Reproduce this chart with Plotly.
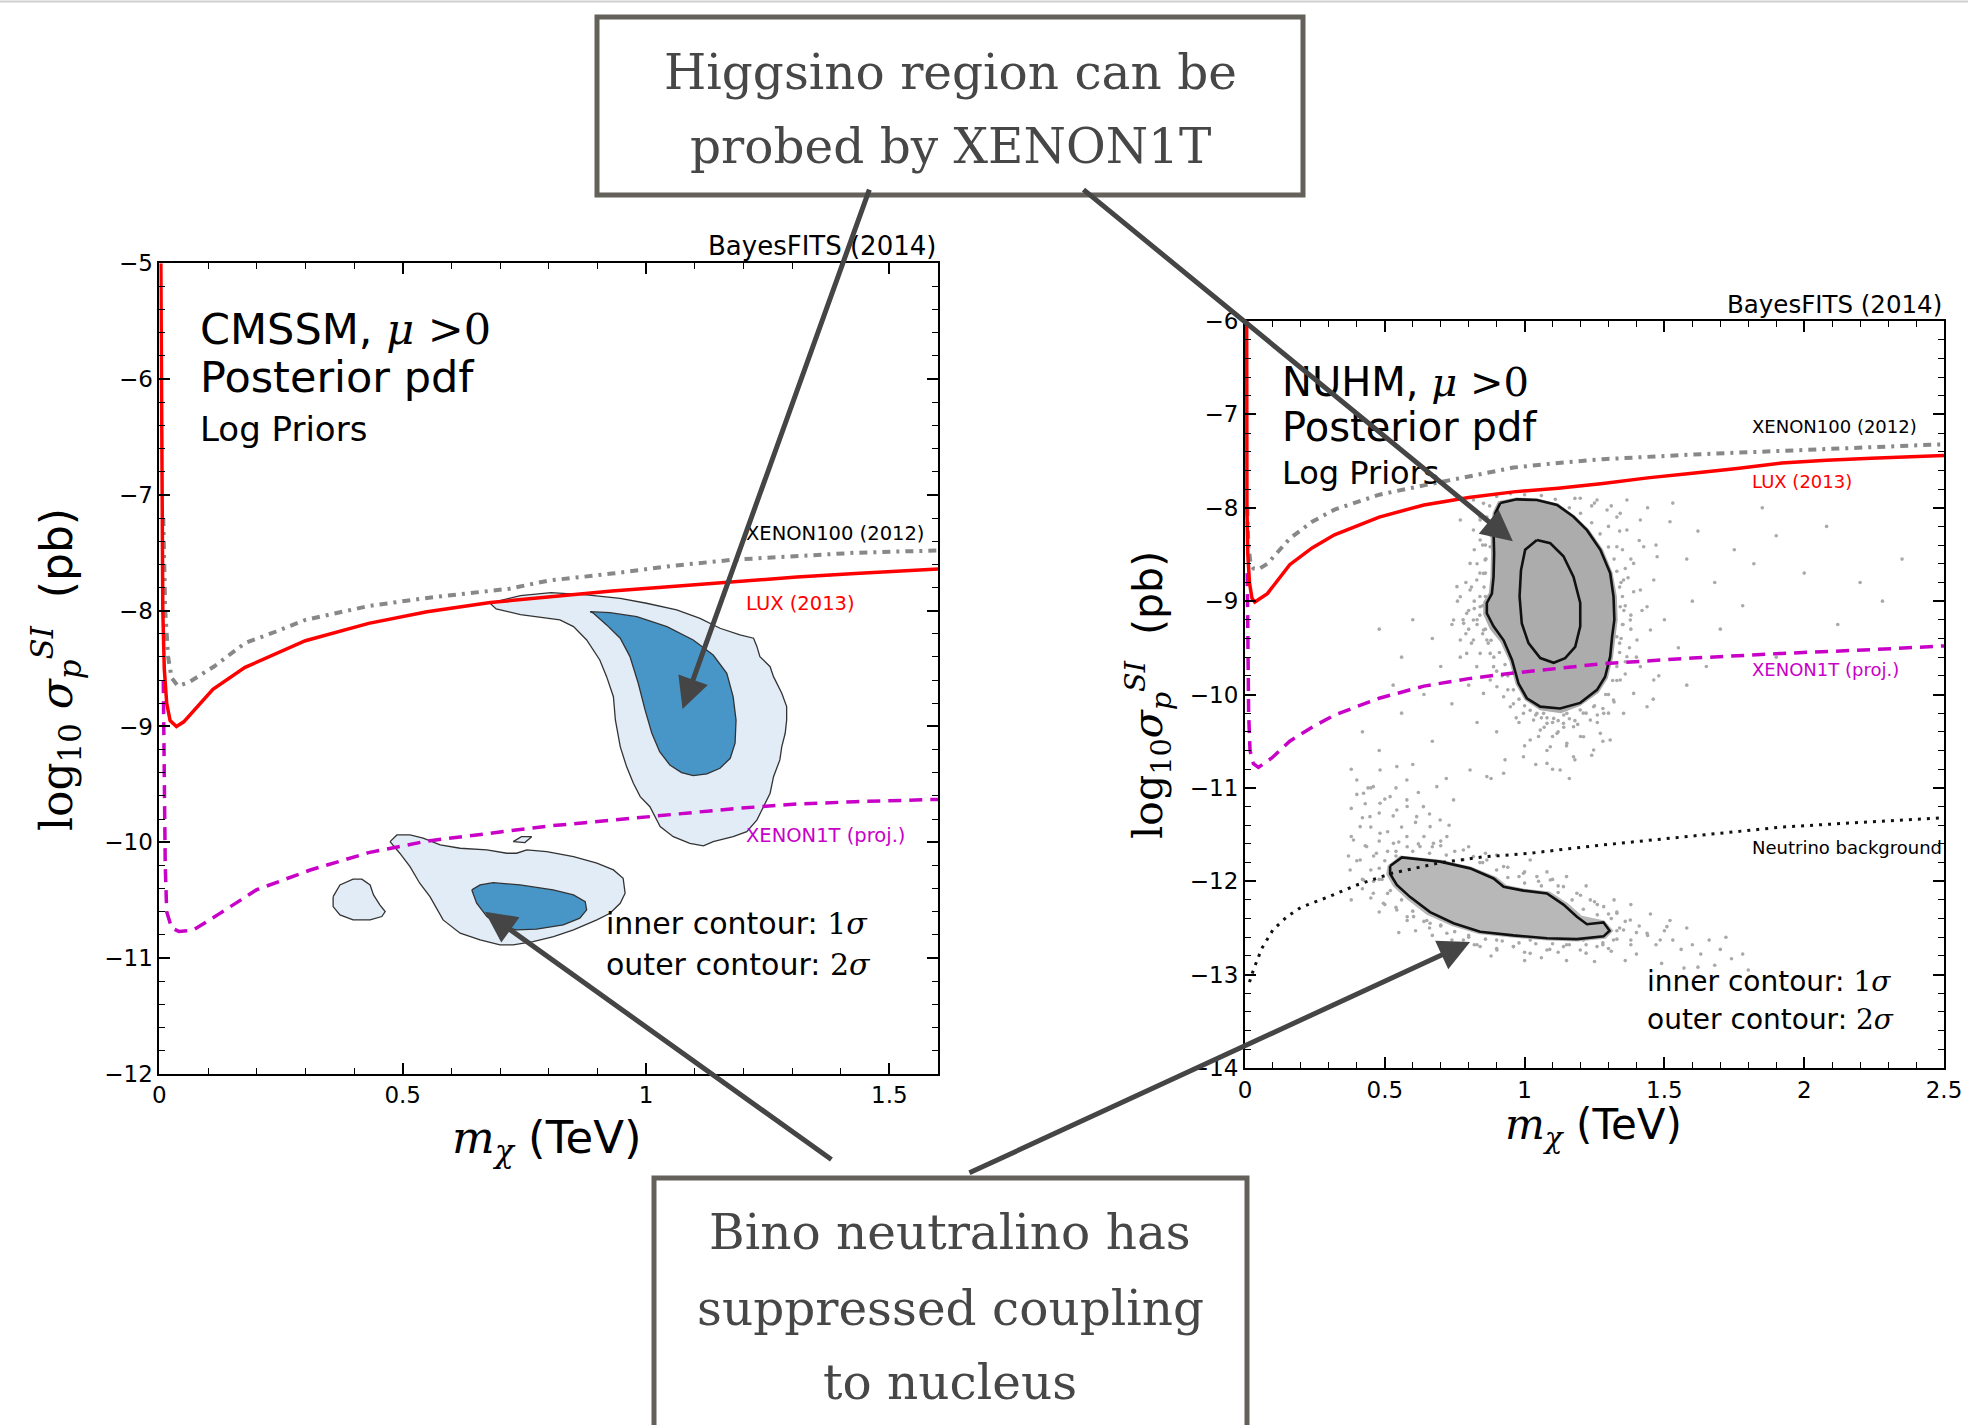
import plotly.graph_objects as go

# ---------------- CMSSM panel (left) ----------------
cm_lux_x = [0.003, 0.004, 0.005, 0.007, 0.010, 0.015, 0.022, 0.035, 0.05, 0.075, 0.11, 0.176,
            0.30, 0.43, 0.55, 0.68, 0.80, 0.93, 1.06, 1.18, 1.31, 1.43, 1.6]
cm_lux_y = [-5.0, -6.0, -7.0, -8.0, -8.5, -8.8, -8.95, -9.0, -8.96, -8.84, -8.68, -8.49,
            -8.26, -8.11, -8.01, -7.93, -7.88, -7.83, -7.79, -7.75, -7.71, -7.68, -7.64]

cm_x100_x = [0.008, 0.012, 0.018, 0.025, 0.038, 0.06, 0.113, 0.176, 0.24, 0.30, 0.43, 0.55,
             0.72, 0.80, 0.93, 1.06, 1.18, 1.31, 1.43, 1.6]
cm_x100_y = [-7.2, -8.0, -8.4, -8.58, -8.65, -8.62, -8.48, -8.28, -8.18, -8.08, -7.96, -7.89,
             -7.81, -7.74, -7.68, -7.61, -7.56, -7.53, -7.50, -7.48]

cm_x1t_x = [0.008, 0.010, 0.012, 0.015, 0.025, 0.04, 0.069, 0.126, 0.20, 0.31, 0.43, 0.55,
            0.68, 0.80, 0.93, 1.06, 1.18, 1.31, 1.43, 1.6]
cm_x1t_y = [-8.6, -9.5, -10.2, -10.6, -10.74, -10.77, -10.76, -10.61, -10.41, -10.24, -10.09,
            -9.99, -9.92, -9.86, -9.81, -9.76, -9.71, -9.67, -9.65, -9.63]

# 2-sigma / 1-sigma regions (higgsino-like island)
cm_hi_out_x = [0.679, 0.742, 0.805, 0.878, 0.947, 1.001, 1.063, 1.111, 1.152, 1.193, 1.221, 1.228,
               1.234, 1.255, 1.262, 1.279, 1.289, 1.289, 1.286, 1.279, 1.275, 1.262, 1.255, 1.241,
               1.228, 1.207, 1.179, 1.138, 1.118, 1.090, 1.056, 1.029, 1.008, 0.988, 0.974, 0.960,
               0.947, 0.937, 0.933, 0.919, 0.905, 0.878, 0.851, 0.823, 0.742, 0.692]
cm_hi_out_y = [-7.934, -7.870, -7.845, -7.864, -7.893, -7.936, -7.994, -8.066, -8.152, -8.210, -8.238,
               -8.311, -8.397, -8.484, -8.570, -8.713, -8.829, -8.944, -9.059, -9.174, -9.289, -9.434,
               -9.577, -9.693, -9.807, -9.908, -9.952, -9.995, -10.032, -10.009, -9.952, -9.865,
               -9.693, -9.606, -9.491, -9.347, -9.174, -8.944, -8.743, -8.570, -8.426, -8.253,
               -8.138, -8.080, -8.034, -7.985]
cm_hi_in_x = [0.885, 0.926, 0.981, 1.043, 1.097, 1.138, 1.166, 1.179, 1.185, 1.183, 1.173, 1.152,
              1.125, 1.097, 1.073, 1.049, 1.028, 1.012, 0.998, 0.984, 0.967, 0.947, 0.919, 0.892]
cm_hi_in_y = [-8.009, -8.017, -8.052, -8.138, -8.253, -8.383, -8.541, -8.743, -8.944, -9.145, -9.275,
              -9.361, -9.410, -9.425, -9.399, -9.333, -9.218, -9.059, -8.857, -8.627, -8.397,
              -8.238, -8.123, -8.022]

# bino-like island
cm_lo_out_x = [0.474, 0.488, 0.515, 0.542, 0.577, 0.618, 0.673, 0.714, 0.734, 0.755, 0.796, 0.851,
               0.899, 0.933, 0.953, 0.957, 0.947, 0.926, 0.899, 0.851, 0.810, 0.768, 0.727, 0.700,
               0.659, 0.618, 0.583, 0.556, 0.535, 0.515, 0.494]
cm_lo_out_y = [-9.995, -9.937, -9.937, -9.965, -10.023, -10.052, -10.066, -10.095, -10.095, -10.066,
               -10.081, -10.124, -10.181, -10.239, -10.311, -10.440, -10.527, -10.613, -10.671,
               -10.757, -10.815, -10.858, -10.887, -10.887, -10.844, -10.786, -10.671, -10.470,
               -10.354, -10.211, -10.095]
cm_lo_in_x = [0.642, 0.659, 0.686, 0.741, 0.809, 0.851, 0.875, 0.878, 0.864, 0.830, 0.775, 0.734,
              0.700, 0.673, 0.652]
cm_lo_in_y = [-10.412, -10.369, -10.349, -10.369, -10.412, -10.455, -10.513, -10.584, -10.656,
              -10.714, -10.751, -10.757, -10.729, -10.642, -10.527]
cm_isl_x = [0.357, 0.371, 0.398, 0.416, 0.433, 0.440, 0.453, 0.464, 0.457, 0.433, 0.398, 0.371, 0.357]
cm_isl_y = [-10.470, -10.369, -10.319, -10.319, -10.369, -10.455, -10.541, -10.599, -10.642,
            -10.671, -10.671, -10.628, -10.556]
cm_dot_x = [0.727, 0.744, 0.765, 0.751]
cm_dot_y = [-9.995, -9.952, -9.952, -10.003]

# ---------------- NUHM panel (right) ----------------
nu_lux_x = [0.006, 0.006, 0.007, 0.010, 0.016, 0.025, 0.035, 0.05, 0.08, 0.16, 0.24, 0.32, 0.48,
            0.64, 0.80, 0.96, 1.12, 1.28, 1.44, 1.60, 1.76, 1.92, 2.08, 2.24, 2.5]
nu_lux_y = [-6.0, -7.0, -8.0, -8.5, -8.8, -8.97, -9.01, -8.98, -8.92, -8.61, -8.43, -8.29, -8.10,
            -7.97, -7.89, -7.83, -7.79, -7.74, -7.68, -7.63, -7.58, -7.52, -7.49, -7.47, -7.44]

nu_x100_x = [0.008, 0.012, 0.02, 0.03, 0.048, 0.08, 0.16, 0.24, 0.32, 0.48, 0.64, 0.80, 0.96,
             1.12, 1.28, 1.6, 1.92, 2.24, 2.5]
nu_x100_y = [-8.0, -8.4, -8.6, -8.65, -8.66, -8.6, -8.33, -8.15, -8.02, -7.86, -7.76, -7.66,
             -7.57, -7.52, -7.48, -7.43, -7.39, -7.36, -7.32]

nu_x1t_x = [0.008, 0.010, 0.013, 0.018, 0.03, 0.048, 0.096, 0.16, 0.24, 0.32, 0.48, 0.64, 0.80,
            0.96, 1.12, 1.28, 1.6, 1.92, 2.24, 2.5]
nu_x1t_y = [-8.7, -9.6, -10.2, -10.6, -10.74, -10.78, -10.68, -10.50, -10.35, -10.22, -10.04,
            -9.91, -9.83, -9.77, -9.72, -9.67, -9.61, -9.56, -9.52, -9.48]

nu_nbg_x = [0.016, 0.03, 0.06, 0.10, 0.15, 0.20, 0.30, 0.40, 0.525, 0.70, 0.85, 1.02, 1.25, 1.52,
            1.92, 2.2, 2.5]
nu_nbg_y = [-13.08, -12.95, -12.72, -12.52, -12.38, -12.28, -12.165, -12.04, -11.915, -11.80,
            -11.74, -11.70, -11.62, -11.54, -11.42, -11.37, -11.32]

# dense parts of the posterior sample
nu_core_hi_x = [0.905, 0.97, 1.045, 1.12, 1.18, 1.23, 1.28, 1.315, 1.33, 1.333, 1.325, 1.316,
                1.297, 1.265, 1.20, 1.13, 1.055, 1.0, 0.968, 0.945, 0.914, 0.876, 0.852, 0.852,
                0.872, 0.878, 0.88, 0.878, 0.886]
nu_core_hi_y = [-7.93, -7.89, -7.90, -7.955, -8.085, -8.23, -8.445, -8.70, -8.95, -9.20, -9.39,
                -9.61, -9.83, -9.98, -10.12, -10.2, -10.17, -10.06, -9.89, -9.64, -9.44, -9.3,
                -9.14, -9.01, -8.91, -8.74, -8.49, -8.24, -8.05]
nu_core_lo_x = [0.51, 0.555, 0.70, 0.81, 0.90, 0.935, 1.0, 1.09, 1.155, 1.205, 1.285, 1.318, 1.29,
                1.19, 1.08, 0.96, 0.835, 0.74, 0.65, 0.58, 0.53, 0.505]
nu_core_lo_y = [-11.83, -11.725, -11.77, -11.845, -11.955, -12.04, -12.08, -12.11, -12.235,
                -12.37, -12.42, -12.53, -12.615, -12.645, -12.635, -12.605, -12.565, -12.48,
                -12.36, -12.195, -12.055, -11.925]

# sparse samples around the two regions
nu_pts_x = [
    1.34, 1.35, 1.36, 1.34, 1.36, 1.35, 1.34, 1.36, 1.33, 1.38, 1.39, 1.38, 1.40, 1.41, 1.42, 1.30,
    1.33, 1.31, 1.25, 1.28,
    1.47, 1.52, 1.58, 1.62, 1.68, 1.75, 1.82, 1.90, 2.00, 2.08, 2.20, 2.35, 1.50, 1.55, 1.60, 1.70,
    1.78, 1.90, 1.48, 1.58, 1.46, 1.65, 1.85, 2.12, 1.44, 1.53, 2.28,
    0.86, 0.85, 0.84, 0.82, 0.83, 0.86, 0.80, 0.78, 0.81, 0.84, 0.86, 0.85, 0.87, 0.89, 0.92, 0.94,
    0.76, 0.79, 0.74, 0.88, 0.83, 0.87, 0.81,
    1.02, 1.06, 1.10, 1.14, 1.18, 1.22, 1.26, 1.12, 1.05, 1.20, 1.15, 1.08, 1.28, 1.18, 1.10, 0.98,
    1.00, 1.24, 1.30, 1.04, 1.16, 0.96,
    0.48, 0.56, 0.60, 0.67, 0.70, 0.64, 0.56, 0.48, 0.42, 0.74, 0.77, 0.53, 0.45, 0.67, 0.60, 0.80,
    0.83, 0.90, 0.93, 0.72, 0.38, 0.88,
    0.758, 0.770, 0.805, 0.829, 0.841, 0.817, 0.793, 0.853, 0.865, 0.877, 0.889, 0.841, 0.817,
    0.782, 0.746, 0.853, 0.859, 0.877, 0.871, 0.841, 0.817, 0.805, 0.877, 0.901, 0.925, 0.949,
    0.770, 0.793, 0.829, 0.853, 0.841, 0.853, 0.770, 0.817,
    0.996, 1.032, 1.068, 1.104, 1.151, 1.199, 1.247, 1.056, 1.116, 1.175, 1.235, 1.283, 1.020,
    1.092, 1.151, 1.211, 1.271, 0.996, 1.080, 1.175, 1.247, 1.306, 1.127, 1.044, 1.080, 1.139,
    1.342, 1.366, 1.330, 1.390, 1.354, 1.414, 1.342, 1.378, 1.330, 1.402, 1.438, 1.462, 1.426,
    1.366, 1.414, 1.474, 1.450, 1.366, 1.414, 1.342, 1.390, 1.318, 1.462, 1.438, 1.354, 1.295,
    1.259, 1.199,
    0.90, 0.95, 1.00, 1.06, 1.11, 1.16, 1.20, 1.24, 1.27, 1.30, 1.32, 1.33,
    1.345, 1.35, 1.355, 1.352, 1.345, 1.34, 1.33, 1.315, 1.29, 1.25,
    1.21, 1.16, 1.12, 1.08, 1.04, 1.00, 0.98, 1.14, 1.07, 1.19,
    0.96, 0.94, 0.93, 0.91, 0.88, 0.85, 0.83, 0.82, 0.84, 0.855, 0.86, 0.862, 0.86, 0.858, 0.865, 0.875,
    1.37, 1.38, 1.375, 1.36, 1.32, 1.26, 1.10, 0.97, 0.90, 0.80, 0.79, 0.82, 0.84, 1.30, 1.24, 1.18,
    0.40, 0.43, 0.42, 0.45, 0.48, 0.38, 0.43, 0.48, 0.51, 0.46, 0.40, 0.50, 0.54, 0.58, 0.53, 0.56,
    0.61, 0.64, 0.67, 0.58, 0.38, 0.45, 0.48, 0.42, 0.37, 0.51, 0.54, 0.70, 0.75, 0.80, 0.62, 0.66,
    0.73, 0.44,
    0.42, 0.45, 0.51, 0.54, 0.48, 0.58, 0.64, 0.61, 0.67, 0.74, 0.70, 0.80, 0.83, 0.90, 0.96, 1.02,
    1.09, 1.15, 1.21, 1.28, 0.38, 0.55, 0.73, 0.88, 1.00, 1.06, 1.15, 1.25, 0.77,
    1.33, 1.36, 1.33, 1.38, 1.41, 1.44, 1.47, 1.50, 1.53, 1.56, 1.60, 1.63, 1.66, 1.70, 1.74, 1.78,
    1.40, 1.49, 1.57, 1.45, 1.31, 1.36, 1.52, 1.62, 1.68, 1.80, 1.72, 1.58,
    0.98, 1.05, 1.12, 1.20, 1.26, 1.32, 1.08, 1.15, 0.94, 1.22, 1.30, 1.38, 0.85, 0.90,
    0.400, 0.424, 0.459, 0.483, 0.519, 0.543, 0.579, 0.614, 0.638, 0.662, 0.698, 0.722, 0.447,
    0.412, 0.388, 0.435, 0.483, 0.531, 0.579, 0.626, 0.674, 0.781, 0.817, 0.865, 0.925, 0.412,
    0.376, 0.424, 0.459, 0.495, 0.543, 0.603, 0.662, 0.722, 0.781, 0.841, 0.901, 0.960, 1.020,
    1.080, 1.139, 1.199, 1.259, 1.318, 1.354, 1.378, 1.438, 1.485, 1.509, 1.330, 1.283, 1.235,
    1.187, 1.139, 1.092, 1.044, 0.996, 1.020, 0.805, 0.865, 0.925, 0.543, 0.579, 0.746, 0.686,
    0.483,
    0.50, 0.54, 0.60, 0.66, 0.72, 0.78, 0.84, 0.90, 0.94, 1.00, 1.06, 1.12, 1.17, 1.21, 1.26, 1.31,
    1.34,
    1.33, 1.28, 1.22, 1.16, 1.10, 1.04, 0.98, 0.92, 0.86, 0.80, 0.75, 0.70, 0.65, 0.60, 0.56, 0.52,
    0.49, 0.48,
    0.90, 1.00, 1.12, 1.22, 1.30, 0.82, 0.66, 0.58, 0.50, 0.46, 0.47, 0.55, 0.62, 0.70, 0.86, 1.00,
    1.10, 1.25, 1.40, 1.38,
]
nu_pts_y = [
    -8.25, -8.45, -8.65, -8.85, -9.05, -9.25, -9.45, -9.65, -9.85, -8.55, -8.90, -9.30, -9.60, -8.35,
    -9.10, -10.0, -8.10, -7.98, -7.95, -10.15,
    -8.40, -8.15, -8.55, -8.25, -8.80, -8.45, -8.60, -8.30, -8.70, -8.20, -8.80, -8.55, -9.20, -9.50,
    -9.00, -9.30, -9.05, -9.60, -9.80, -9.90, -10.05, -9.70, -8.00, -9.25, -8.00, -7.95, -9.00,
    -8.95, -9.05, -9.15, -9.00, -9.25, -9.30, -9.10, -9.20, -8.85, -8.70, -8.55, -8.40, -9.45, -9.60,
    -9.80, -9.95, -9.00, -9.35, -9.25, -8.30, -8.60, -9.20, -9.45,
    -10.17, -10.25, -10.30, -10.22, -10.28, -10.20, -10.30, -10.40, -10.45, -10.45, -10.55, -10.60,
    -10.50, -10.70, -10.80, -10.30, -10.55, -10.65, -10.20, -10.75, -10.90, -10.10,
    -9.30, -9.60, -9.20, -9.40, -9.70, -10.00, -10.20, -10.60, -10.40, -10.10, -9.60, -9.90, -11.00,
    -10.50, -10.75, -9.90, -10.30, -10.40, -10.70, -10.90, -10.80, -10.90,
    -8.845, -8.953, -8.881, -8.774, -9.060, -9.202, -9.131, -9.310, -9.417, -9.560, -9.702, -9.560,
    -9.417, -9.238, -9.202, -8.703, -8.560, -8.417, -8.274, -8.346, -8.239, -8.596, -9.845, -9.917,
    -10.024, -10.131, -9.417, -9.560, -9.702, -9.988, -8.131, -7.953, -8.131, -7.917,
    -10.202, -10.274, -10.202, -10.256, -10.202, -10.166, -10.131, -10.381, -10.416, -10.345,
    -10.274, -10.202, -10.488, -10.559, -10.523, -10.452, -10.416, -10.666, -10.738, -10.666,
    -10.595, -10.488, -10.809, -10.202, -10.309, -10.309,
    -8.060, -8.239, -8.417, -8.596, -8.774, -8.881, -9.060, -9.202, -9.381, -9.417, -9.060, -8.774,
    -8.417, -7.917, -8.131, -8.524, -9.310, -9.595, -9.702, -9.845, -9.988, -10.059, -9.845,
    -10.131, -10.202, -8.024, -7.917, -7.899,
    -7.88, -7.85, -7.86, -7.87, -7.91, -8.00, -8.06, -8.16, -8.28, -8.42, -8.55, -8.68,
    -8.80, -8.95, -9.10, -9.25, -9.40, -9.55, -9.70, -9.85, -10.00, -10.12,
    -10.20, -10.26, -10.28, -10.25, -10.22, -10.12, -10.05, -10.35, -10.35, -10.32,
    -9.95, -9.80, -9.68, -9.55, -9.42, -9.35, -9.20, -9.08, -8.95, -8.85, -8.70, -8.55, -8.40, -8.25,
    -8.10, -7.98,
    -8.75, -9.15, -9.50, -9.78, -10.08, -10.22, -10.45, -10.25, -9.75, -9.30, -8.80, -8.45, -8.10,
    -8.20, -7.98, -7.90,
    -11.07, -11.17, -11.32, -11.42, -11.27, -11.52, -11.62, -11.57, -11.47, -11.73, -11.78, -11.12,
    -11.00, -11.20, -11.30, -11.42, -11.37, -11.52, -11.63, -11.63, -11.22, -11.88, -11.98, -11.98,
    -11.73, -11.68, -11.73, -11.57, -11.68, -11.63, -11.05, -11.28, -11.40, -11.00,
    -12.08, -12.18, -12.13, -12.28, -12.33, -12.38, -12.43, -12.53, -12.58, -12.63, -12.48, -12.58,
    -12.68, -12.63, -12.70, -12.63, -12.73, -12.68, -12.63, -12.68, -12.20, -12.55, -12.78, -12.80,
    -12.85, -12.82, -12.85, -12.86, -12.70,
    -12.53, -12.43, -12.33, -12.63, -12.48, -12.58, -12.68, -12.53, -12.63, -12.73, -12.68, -12.78,
    -12.63, -12.73, -12.83, -12.78, -12.78, -12.88, -12.93, -12.35, -12.75, -12.85, -12.42, -12.92,
    -12.90, -12.95, -12.60, -12.50,
    -11.95, -12.00, -12.05, -12.15, -12.25, -12.20, -11.90, -11.95, -11.85, -12.05, -12.35, -12.25,
    -11.80, -11.72,
    -10.915, -11.058, -10.987, -11.165, -11.094, -11.237, -11.129, -11.308, -11.201, -11.415,
    -11.344, -11.522, -11.308, -11.415, -11.558, -11.629, -11.486, -11.594, -11.522, -11.629,
    -11.594, -11.665, -11.736, -11.772, -11.843, -11.772, -11.879, -11.986, -12.129, -12.236,
    -12.308, -12.379, -12.450, -12.557, -12.629, -12.700, -12.736, -12.700, -12.772, -12.736,
    -12.700, -12.736, -12.700, -12.629, -12.522, -12.415, -12.557, -12.629, -12.486, -12.343,
    -12.272, -12.200, -12.129, -12.058, -11.986, -11.950, -11.915, -11.772, -10.808, -10.879,
    -10.844, -10.772, -10.915, -11.129, -10.987, -10.808,
    -11.78, -11.68, -11.68, -11.70, -11.72, -11.77, -11.80, -11.88, -11.96, -12.02, -12.05, -12.12,
    -12.20, -12.30, -12.36, -12.40, -12.50,
    -12.62, -12.66, -12.68, -12.68, -12.67, -12.67, -12.66, -12.64, -12.62, -12.60, -12.54, -12.47,
    -12.42, -12.32, -12.20, -12.10, -11.98, -11.86,
    -12.72, -12.76, -12.76, -12.77, -12.72, -12.68, -12.50, -12.42, -12.25, -12.00, -11.70, -11.58,
    -11.60, -11.62, -11.70, -11.90, -11.98, -12.22, -12.55, -12.68,
]

nu_hi_out_x = [0.913, 0.972, 1.044, 1.116, 1.175, 1.223, 1.271, 1.306, 1.318, 1.321, 1.313, 1.306,
               1.288, 1.259, 1.199, 1.127, 1.056, 1.008, 0.978, 0.955, 0.925, 0.889, 0.865, 0.865,
               0.883, 0.889, 0.891, 0.889, 0.895]
nu_hi_out_y = [-7.95, -7.91, -7.917, -7.97, -8.096, -8.24, -8.45, -8.70, -8.95, -9.20, -9.38, -9.595,
               -9.81, -9.95, -10.09, -10.15, -10.13, -10.04, -9.88, -9.63, -9.42, -9.27, -9.13,
               -9.02, -8.92, -8.74, -8.49, -8.24, -8.06]
nu_hi_in_x = [1.044, 1.092, 1.139, 1.175, 1.199, 1.199, 1.181, 1.145, 1.104, 1.056, 1.014, 0.990,
              0.982, 0.987, 1.002]
nu_hi_in_y = [-8.345, -8.38, -8.52, -8.74, -9.02, -9.27, -9.49, -9.61, -9.66, -9.61, -9.45, -9.24,
              -8.95, -8.67, -8.45]
nu_lo_out_x = [0.519, 0.561, 0.698, 0.805, 0.889, 0.925, 0.996, 1.080, 1.139, 1.187, 1.223, 1.282,
               1.304, 1.282, 1.187, 1.080, 0.960, 0.841, 0.746, 0.662, 0.591, 0.543, 0.519]
nu_lo_out_y = [-11.837, -11.744, -11.79, -11.862, -11.97, -12.06, -12.10, -12.13, -12.25, -12.38,
               -12.46, -12.44, -12.53, -12.59, -12.62, -12.61, -12.58, -12.54, -12.45, -12.33,
               -12.17, -12.04, -11.92]

# tick labels
cm_xticks = [0, 0.5, 1, 1.5]
cm_xlabels = ["0", "0.5", "1", "1.5"]
cm_yticks = [-12, -11, -10, -9, -8, -7, -6, -5]
nu_xticks = [0, 0.5, 1, 1.5, 2, 2.5]
nu_xlabels = ["0", "0.5", "1", "1.5", "2", "2.5"]
nu_yticks = [-14, -13, -12, -11, -10, -9, -8, -7, -6]

RED = "#ff0000"
MAG = "#c800c8"
GREY = "#888888"
SANS = "DejaVu Sans"
SERIF = "DejaVu Serif"
ARROW = "#454545"
BOXLINE = "#64615b"
BOXTEXT = "#474747"


def closed(xs, ys):
    return list(xs) + [xs[0]], list(ys) + [ys[0]]


fig = go.Figure()


def region(xs, ys, fill, line, width, xa, ya):
    cx, cy = closed(xs, ys)
    fig.add_trace(go.Scatter(x=cx, y=cy, mode="lines", fill="toself", fillcolor=fill,
                             line=dict(color=line, width=width), xaxis=xa, yaxis=ya,
                             hoverinfo="skip", showlegend=False))


# left panel: credible regions
LIGHT = "#e1ecf7"
DARK = "#4896c8"
region(cm_hi_out_x, cm_hi_out_y, LIGHT, "#333333", 1.3, "x", "y")
region(cm_lo_out_x, cm_lo_out_y, LIGHT, "#333333", 1.3, "x", "y")
region(cm_isl_x, cm_isl_y, LIGHT, "#333333", 1.3, "x", "y")
region(cm_dot_x, cm_dot_y, LIGHT, "#333333", 1.3, "x", "y")
region(cm_hi_in_x, cm_hi_in_y, DARK, "#333333", 1.3, "x", "y")
region(cm_lo_in_x, cm_lo_in_y, DARK, "#333333", 1.3, "x", "y")


def curve(xs, ys, color, width, dash, xa, ya):
    fig.add_trace(go.Scatter(x=xs, y=ys, mode="lines", line=dict(color=color, width=width, dash=dash),
                             xaxis=xa, yaxis=ya, hoverinfo="skip", showlegend=False))


curve(cm_x100_x, cm_x100_y, GREY, 4, "8px,6px,3px,6px", "x", "y")
curve(cm_x1t_x, cm_x1t_y, MAG, 3.5, "13px,8px", "x", "y")
curve(cm_lux_x, cm_lux_y, RED, 3.5, "solid", "x", "y")

# right panel: samples, regions, limits
fig.add_trace(go.Scatter(x=nu_pts_x, y=nu_pts_y, mode="markers",
                         marker=dict(size=3.6, color="#a9a9a9", line=dict(width=0)),
                         xaxis="x2", yaxis="y2", hoverinfo="skip", showlegend=False))
cx, cy = closed(nu_core_hi_x, nu_core_hi_y)
fig.add_trace(go.Scatter(x=cx, y=cy, mode="lines", fill="toself", fillcolor="#acacac",
                         line=dict(width=0, color="#acacac"), xaxis="x2", yaxis="y2",
                         hoverinfo="skip", showlegend=False))
cx, cy = closed(nu_core_lo_x, nu_core_lo_y)
fig.add_trace(go.Scatter(x=cx, y=cy, mode="lines", fill="toself", fillcolor="#b8b8b8",
                         line=dict(width=0, color="#b8b8b8"), xaxis="x2", yaxis="y2",
                         hoverinfo="skip", showlegend=False))
for xs, ys in [(nu_hi_out_x, nu_hi_out_y), (nu_hi_in_x, nu_hi_in_y), (nu_lo_out_x, nu_lo_out_y)]:
    lx, ly = closed(xs, ys)
    curve(lx, ly, "#111111", 2.6, "solid", "x2", "y2")

curve(nu_nbg_x, nu_nbg_y, "#111111", 3, "3px,6px", "x2", "y2")
curve(nu_x100_x, nu_x100_y, GREY, 4, "8px,6px,3px,6px", "x2", "y2")
curve(nu_x1t_x, nu_x1t_y, MAG, 3.5, "13px,8px", "x2", "y2")
curve(nu_lux_x, nu_lux_y, RED, 3.5, "solid", "x2", "y2")


def axis(domain, rng, tickvals, ticktext, minor_dtick, anchor):
    return dict(domain=domain, range=rng, tickvals=tickvals, ticktext=ticktext,
                ticks="inside", ticklen=11, tickwidth=1.5, tickcolor="black",
                showline=True, linewidth=2, linecolor="black", mirror="ticks",
                showgrid=False, zeroline=False, anchor=anchor, automargin=False,
                tickfont=dict(family=SANS, size=23, color="black"),
                minor=dict(ticks="inside", ticklen=6, tickwidth=1, tickcolor="black",
                           dtick=minor_dtick, tick0=0, showgrid=False))


ann = []


def txt(x, y, text, size, color="black", xref="x", yref="y", xanchor="left", yanchor="middle",
        family=SANS, angle=0):
    ann.append(dict(x=x, y=y, xref=xref, yref=yref, text=text, showarrow=False, xanchor=xanchor,
                    yanchor=yanchor, textangle=angle, font=dict(family=family, size=size, color=color)))


MU = '<span style="font-family:DejaVu Serif"><i>μ</i> &gt;0</span>'

# left panel texts
txt(1.6, -5.0, "BayesFITS (2014)", 26, xanchor="right", yanchor="bottom")
txt(0.08, -5.57, "CMSSM, " + MU, 43)
txt(0.08, -5.98, "Posterior pdf", 43)
txt(0.08, -6.43, "Log Priors", 34)
txt(1.202, -7.33, "XENON100 (2012)", 19.5)
txt(1.202, -7.94, "LUX (2013)", 19.5, color=RED)
txt(1.202, -9.945, "XENON1T (proj.)", 19.5, color=MAG)
txt(0.913, -10.70, 'inner contour: <span style="font-family:DejaVu Serif">1<i>σ</i></span>', 30)
txt(0.913, -11.06, 'outer contour: <span style="font-family:DejaVu Serif">2<i>σ</i></span>', 30)

# right panel texts
X2, Y2 = "x2", "y2"
txt(2.5, -6.0, "BayesFITS (2014)", 24.5, xref=X2, yref=Y2, xanchor="right", yanchor="bottom")
txt(0.126, -6.65, "NUHM, " + MU, 40, xref=X2, yref=Y2)
txt(0.126, -7.13, "Posterior pdf", 40, xref=X2, yref=Y2)
txt(0.126, -7.63, "Log Priors", 32, xref=X2, yref=Y2)
txt(1.806, -7.13, "XENON100 (2012)", 18, xref=X2, yref=Y2)
txt(1.806, -7.72, "LUX (2013)", 18, color=RED, xref=X2, yref=Y2)
txt(1.806, -9.73, "XENON1T (proj.)", 18, color=MAG, xref=X2, yref=Y2)
txt(1.806, -11.635, "Neutrino background", 18, xref=X2, yref=Y2)
txt(1.429, -13.07, 'inner contour: <span style="font-family:DejaVu Serif">1<i>σ</i></span>', 28,
    xref=X2, yref=Y2)
txt(1.429, -13.48, 'outer contour: <span style="font-family:DejaVu Serif">2<i>σ</i></span>', 28,
    xref=X2, yref=Y2)

# axis titles
YLAB = ('<span style="font-family:DejaVu Serif">log<sub>10</sub> <i>σ</i><sub><i>p</i></sub>'
        '<sup><i>SI</i></sup></span>  (pb)')
XLAB = '<span style="font-family:DejaVu Serif"><i>m</i><sub><i>χ</i></sub></span> (TeV)'
txt(0.0285, 0.5298, YLAB, 44, xref="paper", yref="paper", xanchor="center", angle=-90)
txt(0.5833, 0.5123, YLAB.replace("</sub> <i>", "</sub><i>"), 41, xref="paper", yref="paper",
    xanchor="center", angle=-90)
txt(0.2779, 0.2000, XLAB, 45, xref="paper", yref="paper", xanchor="center")
txt(0.8095, 0.2091, XLAB, 42, xref="paper", yref="paper", xanchor="center")

# callout boxes
W, H = 1968.0, 1425.0
shapes = [
    dict(type="line", xref="paper", yref="paper", x0=0, x1=1, y0=1 - 1.5 / H, y1=1 - 1.5 / H,
         line=dict(color="#cfcfcf", width=2)),
    dict(type="rect", xref="paper", yref="paper", x0=597 / W, x1=1303 / W, y0=1 - 195 / H,
         y1=1 - 17 / H, line=dict(color=BOXLINE, width=5), fillcolor="white", layer="above"),
    dict(type="rect", xref="paper", yref="paper", x0=654 / W, x1=1247 / W, y0=-0.02,
         y1=1 - 1178 / H, line=dict(color=BOXLINE, width=5), fillcolor="white", layer="above"),
]
for text, ypx in [("Higgsino region can be", 72), ("probed by XENON1T", 146)]:
    txt(950 / W, 1 - ypx / H, text, 48.5, color=BOXTEXT, xref="paper", yref="paper",
        xanchor="center", family=SERIF)
for text, ypx in [("Bino neutralino has", 1232), ("suppressed coupling", 1308), ("to nucleus", 1382)]:
    txt(950 / W, 1 - ypx / H, text, 48.5, color=BOXTEXT, xref="paper", yref="paper",
        xanchor="center", family=SERIF)

# arrows from the callouts to the regions
for (xr, yr, x, y, axv, ayv) in [("x", "y", 1.075, -8.85, 1.460, -4.35),
                                  ("x2", "y2", 0.958, -8.36, -0.583, -4.58),
                                  ("x", "y", 0.669, -10.60, 1.384, -12.75),
                                  ("x2", "y2", 0.805, -12.65, -0.991, -15.13)]:
    ann.append(dict(x=x, y=y, xref=xr, yref=yr, ax=axv, ay=ayv, axref=xr, ayref=yr, text="",
                    showarrow=True, arrowhead=2, arrowsize=1.25, arrowwidth=5, arrowcolor=ARROW,
                    standoff=0, startstandoff=0))

fig.update_layout(
    width=1968, height=1425, margin=dict(l=0, r=0, t=0, b=0, pad=0), autosize=False,
    paper_bgcolor="white", plot_bgcolor="rgba(0,0,0,0)", showlegend=False,
    xaxis=axis([159.4 / W, 938 / W], [0, 1.6], cm_xticks, cm_xlabels, 0.1, "y"),
    yaxis=axis([1 - 1073.8 / H, 1 - 263.3 / H], [-12, -5], cm_yticks, None, 0.2, "x"),
    xaxis2=axis([1245 / W, 1944 / W], [0, 2.5], nu_xticks, nu_xlabels, 0.1, "y2"),
    yaxis2=axis([1 - 1068 / H, 1 - 321 / H], [-14, -6], nu_yticks, None, 0.2, "x2"),
    annotations=ann, shapes=shapes,
)

# the page should hold the figure edge to edge
fig.write_html("out.html", post_script="document.body.style.margin='0';"
                                       "document.body.style.overflow='hidden';")
